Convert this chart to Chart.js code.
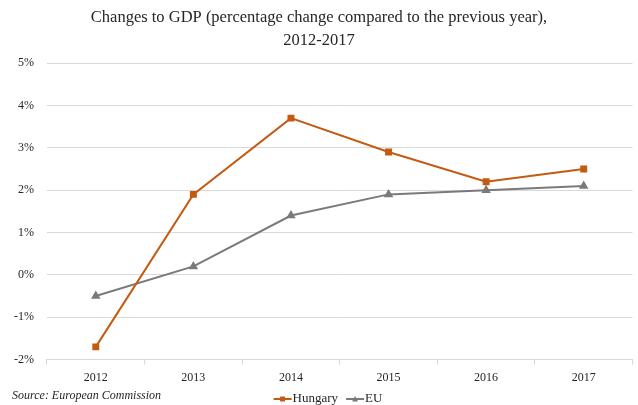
<!DOCTYPE html>
<html><head><meta charset="utf-8">
<script src="https://cdn.jsdelivr.net/npm/chart.js@4"></script>
<style>html,body{margin:0;padding:0;background:#fff}#wrap{width:638px;height:405px}</style>
</head><body><div id="wrap"><canvas id="c"></canvas></div>
<script>
const categories = ["2012","2013","2014","2015","2016","2017"];
const hungary = [-1.7, 1.9, 3.7, 2.9, 2.2, 2.5];
const eu = [-0.5, 0.2, 1.4, 1.9, 2.0, 2.1];
const yTicks = [-2,-1,0,1,2,3,4,5];
const seriesNames = ["Hungary","EU"];
const FONT = "'Liberation Serif', 'DejaVu Serif', serif";
const cOr = '#c55a11', cGr = '#7a7a7a';

const extrasPlugin = {
  id:'extras',
  afterDraw(chart){
    const ctx = chart.ctx; ctx.save();
    ctx.fillStyle = '#262626';
    ctx.textBaseline = 'middle'; ctx.textAlign='left';
    ctx.font = "italic 12px " + FONT;
    ctx.fillText('Source: European Commission', 12, 396);
    // legend
    ctx.font = "13px " + FONT;
    const y = 399, iconW = 18, gapText = 1, gapItem = 8;
    const items = chart.data.datasets.map(d=>({text:d.label, color:d.borderColor, shape:d.pointStyle, w: iconW + gapText + ctx.measureText(d.label).width}));
    const total = items.reduce((s,it)=>s+it.w,0) + gapItem*(items.length-1);
    let x = 328 - total/2;
    items.forEach(it=>{
      ctx.strokeStyle = it.color; ctx.fillStyle = it.color; ctx.lineWidth = 2;
      ctx.beginPath(); ctx.moveTo(x, y); ctx.lineTo(x+iconW, y); ctx.stroke();
      const cx = x + iconW/2;
      if(it.shape==='rect'){ ctx.fillRect(cx-2.5, y-2.5, 5, 5); }
      else { ctx.beginPath(); ctx.moveTo(cx, y-3); ctx.lineTo(cx+3, y+2.5); ctx.lineTo(cx-3, y+2.5); ctx.closePath(); ctx.fill(); }
      ctx.fillStyle = '#262626';
      ctx.fillText(it.text, x + iconW + gapText, y);
      x += it.w + gapItem;
    });
    ctx.restore();
  }
};

new Chart(document.getElementById('c'), {
  type:'line',
  data:{ labels: categories, datasets:[
    {label:seriesNames[0], data:hungary, borderColor:cOr, backgroundColor:cOr, borderWidth:2, pointStyle:'rect', pointRadius:3.5, pointHoverRadius:3.5, tension:0},
    {label:seriesNames[1], data:eu, borderColor:cGr, backgroundColor:cGr, borderWidth:2, pointStyle:'triangle', pointRadius:3.5, pointHoverRadius:3.5, tension:0}
  ]},
  options:{
    responsive:true, maintainAspectRatio:false, animation:false,
    layout:{padding:{left:1, right:1, top:4, bottom:14}},
    plugins:{
      title:{display:true, text:["Changes to GDP (percentage change compared to the previous year),","2012-2017"],
        font:{family:FONT, size:16.5, weight:'normal', lineHeight:1.35}, color:'#262626', padding:{top:3,bottom:11.5}},
      legend:{display:false},
      tooltip:{enabled:false}
    },
    scales:{
      x:{offset:true, grid:{drawOnChartArea:false, drawTicks:true, tickLength:5, color:'#d9d9d9', offset:true},
        border:{display:true, color:'#d9d9d9'},
        ticks:{font:{family:FONT,size:12}, color:'#262626', padding:6}},
      y:{min:-2, max:5, afterBuildTicks(ax){ ax.ticks = yTicks.map(v=>({value:v})); },
        grid:{color:'#d9d9d9', drawTicks:false}, border:{display:false},
        ticks:{font:{family:FONT,size:12}, color:'#262626', padding:13, callback:v=>v+'%'}}
    }
  },
  plugins:[extrasPlugin]
});
</script></body></html>
